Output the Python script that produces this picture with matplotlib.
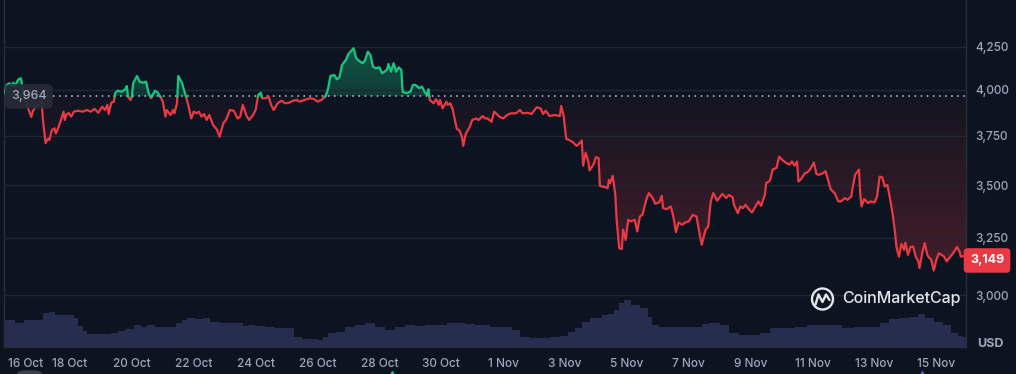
import numpy as np
import matplotlib
matplotlib.use('Agg')
import matplotlib.pyplot as plt
from matplotlib.patches import FancyBboxPatch, Ellipse
from matplotlib.path import Path
from matplotlib.ticker import FixedLocator, NullLocator, FuncFormatter
import matplotlib.transforms as mtrans

# hours since 16 Oct 00:00, price in USD
hours = [-3, -1, 1, 3, 4, 5, 8, 10, 11, 12,
         15, 18, 19, 21, 26, 27, 29, 31, 32, 34,
         36, 37, 39, 41, 43, 44, 45, 47, 49, 51,
         54, 58, 61, 64, 67, 70, 73, 75, 77, 78,
         80, 82, 83, 85, 88, 91, 92, 93, 95, 96,
         97, 100, 102, 105, 107, 109, 111, 112, 114, 116,
         118, 120, 122, 123, 126, 128, 129, 131, 132, 135,
         136, 138, 140, 142, 144, 146, 148, 150, 152, 154,
         156, 159, 162, 164, 165, 167, 169, 172, 175, 178,
         180, 182, 185, 187, 190, 192, 194, 196, 197, 200,
         202, 204, 206, 209, 212, 215, 218, 221, 224, 226,
         230, 234, 237, 240, 243, 246, 248, 250, 253, 255,
         257, 259, 262, 264, 268, 270, 272, 275, 277, 279,
         281, 283, 285, 288, 290, 292, 294, 295, 297, 299,
         301, 303, 305, 306, 309, 312, 314, 316, 319, 321,
         323, 325, 326, 327, 330, 332, 334, 335, 337, 340,
         341, 343, 345, 346, 348, 350, 352, 353, 355, 358,
         360, 363, 365, 368, 370, 372, 375, 377, 381, 384,
         387, 390, 394, 397, 399, 403, 406, 410, 413, 415,
         417, 420, 424, 428, 429, 431, 432, 433, 436, 438,
         441, 444, 445, 446, 448, 450, 451, 454, 456, 458,
         459, 463, 465, 466, 467, 469, 471, 472, 474, 476,
         477, 479, 481, 483, 486, 488, 490, 492, 495, 497,
         500, 502, 505, 507, 508, 511, 514, 516, 518, 520,
         523, 525, 528, 531, 534, 536, 538, 541, 543, 545,
         547, 550, 552, 554, 557, 559, 562, 563, 566, 568,
         570, 572, 575, 577, 580, 582, 584, 587, 588, 591,
         593, 596, 598, 601, 603, 606, 608, 610, 612, 613,
         615, 618, 620, 622, 625, 627, 629, 632, 634, 636,
         638, 641, 644, 646, 649, 651, 654, 655, 657, 660,
         661, 662, 664, 667, 669, 672, 674, 676, 678, 680,
         682, 684, 686, 688, 689, 691, 693, 695, 696, 698,
         700, 702, 704, 706, 707, 709, 711, 713, 714, 716,
         718, 720, 722, 724, 726, 728, 730, 732, 733, 736,
         738, 739, 742, 743]

price = [3982, 4028, 4038, 4019, 4041, 4019, 4060, 4066, 4019, 3982,
         3907, 3851, 3879, 3905, 3935, 3835, 3713, 3736, 3729, 3782,
         3790, 3763, 3795, 3835, 3880, 3835, 3862, 3873, 3853, 3880,
         3885, 3880, 3889, 3880, 3895, 3874, 3907, 3889, 3917, 3867,
         3929, 3935, 3982, 3996, 3990, 4004, 4022, 3963, 3944, 3963,
         4038, 4079, 4047, 4041, 4047, 3982, 3954, 3972, 3996, 3985,
         3963, 3935, 3853, 3889, 3862, 3889, 3871, 3926, 4079, 4038,
         4010, 3963, 3907, 3843, 3880, 3871, 3880, 3853, 3867, 3835,
         3862, 3808, 3783, 3746, 3770, 3818, 3835, 3889, 3885, 3843,
         3853, 3917, 3856, 3835, 3862, 3889, 3972, 3985, 3954, 3954,
         3963, 3917, 3889, 3926, 3940, 3926, 3929, 3940, 3944, 3935,
         3944, 3954, 3950, 3935, 3944, 3963, 4000, 4079, 4085, 4060,
         4072, 4143, 4172, 4207, 4241, 4182, 4168, 4153, 4172, 4221,
         4201, 4133, 4124, 4129, 4095, 4104, 4118, 4149, 4104, 4153,
         4104, 4129, 4114, 3990, 3982, 3990, 4028, 4028, 4010, 4019,
         3990, 3972, 4004, 3944, 3926, 3948, 3917, 3944, 3898, 3935,
         3917, 3926, 3889, 3853, 3788, 3779, 3746, 3698, 3761, 3797,
         3835, 3843, 3835, 3856, 3843, 3843, 3825, 3880, 3853, 3843,
         3862, 3871, 3871, 3889, 3871, 3874, 3867, 3904, 3898, 3867,
         3885, 3856, 3862, 3856, 3911, 3853, 3788, 3734, 3726, 3717,
         3698, 3717, 3726, 3597, 3663, 3618, 3573, 3602, 3640, 3635,
         3496, 3490, 3485, 3526, 3510, 3546, 3452, 3334, 3204, 3200,
         3288, 3241, 3334, 3326, 3334, 3280, 3349, 3357, 3429, 3461,
         3437, 3410, 3416, 3448, 3389, 3384, 3397, 3349, 3276, 3321,
         3311, 3321, 3326, 3357, 3349, 3280, 3219, 3288, 3302, 3421,
         3461, 3425, 3441, 3457, 3437, 3452, 3441, 3405, 3365, 3397,
         3389, 3405, 3381, 3368, 3400, 3421, 3400, 3452, 3510, 3522,
         3577, 3586, 3642, 3623, 3613, 3602, 3618, 3597, 3618, 3518,
         3529, 3559, 3564, 3577, 3613, 3555, 3551, 3559, 3569, 3526,
         3480, 3461, 3421, 3421, 3437, 3429, 3444, 3485, 3551, 3577,
         3452, 3397, 3432, 3413, 3421, 3416, 3444, 3542, 3539, 3493,
         3501, 3437, 3365, 3273, 3211, 3166, 3223, 3196, 3229, 3174,
         3209, 3211, 3166, 3145, 3116, 3181, 3227, 3174, 3164, 3152,
         3105, 3152, 3181, 3174, 3166, 3145, 3160, 3174, 3181, 3209,
         3188, 3166, 3169, 3149]

# volume (relative units)
vol_hours = [-3, 3, 7, 11, 14, 25, 29, 34, 38, 50, 52, 56, 60, 63, 77, 83, 87, 95,
             100, 106, 110, 118, 129, 132, 137, 141, 149, 153, 160, 168, 180, 184,
             188, 195, 203, 211, 218, 226, 230, 238, 242, 246, 251, 257, 265, 273,
             281, 288, 296, 304, 312, 319, 327, 335, 346, 350, 358, 366, 381, 389,
             393, 401, 408, 416, 424, 432, 436, 443, 447, 455, 459, 463, 468, 472,
             476, 480, 486, 494, 498, 501, 509, 536, 540, 548, 556, 563, 571, 579,
             587, 595, 606, 614, 626, 641, 653, 660, 672, 680, 687, 695, 703, 708,
             714, 722, 728, 734, 739, 743]
volume = [27, 27, 24, 24, 27, 27, 34, 35, 32, 32, 29, 21, 16, 12.7, 12.7, 14.3, 16, 18,
          22, 19.7, 22, 20, 20, 23.7, 27, 28.7, 27.7, 28.7, 25.3, 23.7, 23.7, 21,
          22, 21, 20, 18.7, 18.7, 10.3, 7.7, 7.7, 7, 9.7, 13.7, 15.3, 19.7, 22,
          23.7, 20, 17, 20, 22, 21, 22, 22, 23.7, 24.3, 22.7, 22, 19.7, 19.7,
          17, 10.3, 8.7, 8.7, 10.3, 11, 15.3, 18.7, 25.3, 28.7, 28.7, 32, 33, 37,
          43.7, 47, 42, 38.7, 30.3, 22, 20, 20, 23, 23.7, 22, 14.3, 12, 12,
          13.7, 18.7, 18.7, 19.7, 22, 22, 18.7, 19.7, 20, 23.7, 27.7, 28.7, 30.3, 33,
          28.7, 25.3, 22, 13.7, 11, 10]

base_price = 3964
last_price = 3149
y_ticks = [3000, 3250, 3500, 3750, 4000, 4250]
x_labels = ['16 Oct', '18 Oct', '20 Oct', '22 Oct', '24 Oct', '26 Oct', '28 Oct',
            '30 Oct', '1 Nov', '3 Nov', '5 Nov', '7 Nov', '9 Nov', '11 Nov',
            '13 Nov', '15 Nov']
event_hours = [298, 709]
event_colors = ['#16c784', '#3861fb']

BG = '#0d1421'
RED = '#ea3943'
GREEN = '#16c784'
GRID = '#222632'
TXT = '#a1a7bb'

plt.rcParams['font.family'] = ['Inter', 'DejaVu Sans']

W, H = 1016, 374
fig = plt.figure(figsize=(W / 100, H / 100), dpi=100)
fig.patch.set_facecolor(BG)
rect = [4 / W, (H - 347) / H, 962 / W, 347 / H]

# volume band underneath
vax = fig.add_axes(rect)
vax.set_facecolor(BG)
vax.fill_between(vol_hours, volume, 0, step='mid', color='#262d4e', lw=0)
vax.set_ylim(0, 347)
vax.set_xlim(-3.2, 743)
vax.axis('off')

ax = fig.add_axes(rect, sharex=vax)
ax.patch.set_visible(False)
ax.set_yscale('log')
ylo, yhi = 2789, 4538
ax.set_ylim(ylo, yhi)
ax.set_xlim(-3.2, 743)

t = np.array(hours, float)
p = np.array(price, float)
tt, pp = [t[0]], [p[0]]
for i in range(1, len(t)):
    a, b = p[i - 1] - base_price, p[i] - base_price
    if a * b < 0:
        f = a / (a - b)
        tt.append(t[i - 1] + f * (t[i] - t[i - 1]))
        pp.append(base_price)
    tt.append(t[i])
    pp.append(p[i])
tt = np.array(tt)
pp = np.array(pp)


def yfrac(v):
    return (np.log(v) - np.log(ylo)) / (np.log(yhi) - np.log(ylo))


def gradient_fill(where, color, a_top, a_bot, y0, y1):
    poly = ax.fill_between(tt, pp, base_price, where=where, interpolate=True,
                           color='none', lw=0)
    paths = poly.get_paths()
    if not paths:
        return
    clip = Path.make_compound_path(*paths)
    n = 256
    grad = np.zeros((n, 1, 4))
    grad[:, 0, :3] = matplotlib.colors.to_rgb(color)
    grad[:, 0, 3] = np.linspace(a_bot, a_top, n)
    im = ax.imshow(grad, extent=[0, 1, yfrac(y0), yfrac(y1)], origin='lower',
                   transform=ax.transAxes, aspect='auto', zorder=1,
                   interpolation='bilinear')
    im.set_clip_path(clip, ax.transData)


gradient_fill(pp <= base_price, RED, 0.03, 0.25, 3105, base_price)
gradient_fill(pp >= base_price, GREEN, 0.38, 0.22, base_price, 4241)
ax.set_xlim(-3.2, 743)
ax.set_ylim(ylo, yhi)

up = np.where(pp >= base_price, pp, np.nan)
dn = np.where(pp <= base_price, pp, np.nan)
ax.plot(tt, dn, color=RED, lw=1.6, zorder=3, solid_joinstyle='round')
ax.plot(tt, up, color=GREEN, lw=1.6, zorder=3, solid_joinstyle='round')

ax.axhline(base_price, color='#c9ccd6', lw=1.1, ls=(0, (1, 3)), zorder=2)

# axes styling
ax.yaxis.set_major_locator(FixedLocator(y_ticks))
ax.yaxis.set_minor_locator(NullLocator())
ax.yaxis.set_major_formatter(FuncFormatter(lambda v, pos: f'{v:,.0f}'))
ax.yaxis.tick_right()
ax.grid(axis='y', color=GRID, lw=1, zorder=0)
ax.tick_params(axis='y', length=0, pad=7, labelsize=8.5, labelcolor=TXT)
ax.set_xticks([48 * i for i in range(len(x_labels))])
ax.set_xticklabels(x_labels)
ax.tick_params(axis='x', length=0, pad=8, labelsize=8.5, labelcolor=TXT)
ax.get_xticklabels()[0].set_horizontalalignment('left')
for lab in ax.get_xticklabels() + ax.get_yticklabels():
    lab.set_fontweight('medium')
for s in ['left', 'right', 'bottom']:
    ax.spines[s].set_color('#2a2e3a')
    ax.spines[s].set_linewidth(1)
ax.spines['top'].set_visible(False)

# price tags
bt = mtrans.blended_transform_factory(ax.transAxes, ax.transData)
ax.text(1.0 + 4 / 962, last_price, f'{last_price:,}', transform=bt, ha='left',
        va='center', color='white', fontsize=9, fontweight='bold', zorder=6,
        clip_on=False,
        bbox=dict(boxstyle='round,pad=0.5,rounding_size=0.3', fc=RED, ec='none'))
ax.text(7 / 962, base_price, f'{base_price:,}', transform=bt, ha='left',
        va='center', color=TXT, fontsize=9, fontweight='medium', zorder=6,
        bbox=dict(boxstyle='round,pad=0.5,rounding_size=0.45', fc='#272b37',
                  ec='none', alpha=0.92))

# event markers along the bottom
for h, c in zip(event_hours, event_colors):
    ax.plot([h], [-(374 - 347) / 347 - 0.005], marker='^', ms=7, color=c,
            transform=mtrans.blended_transform_factory(ax.transData, ax.transAxes),
            clip_on=False, zorder=5)
fig.patches.append(FancyBboxPatch((17 / W, -0.02), 25 / W, 0.03,
                                  boxstyle='round,pad=0,rounding_size=0.01',
                                  transform=fig.transFigure, fc='#3a3f4d', ec='none'))

# currency tag
fig.text(990 / W, 1 - 344 / H, 'USD', ha='center', va='center', color=TXT,
         fontsize=9, fontweight='bold')

# logo
cx, cy = 822.5, 299
fig.patches.append(Ellipse((cx / W, 1 - cy / H), 21 / W, 21 / H, transform=fig.transFigure,
                           fill=False, ec='#e4e6ec', lw=1.7))
mx = np.array([815.5, 818.5, 822.5, 826.0, 829.5]) / W
my = 1 - np.array([304.5, 294.5, 302.0, 294.5, 300.0]) / H
fig.lines.append(matplotlib.lines.Line2D(mx, my, transform=fig.transFigure, color='#e4e6ec',
                                         lw=1.7, solid_joinstyle='round',
                                         solid_capstyle='round'))
fig.text(842 / W, 1 - 299 / H, 'CoinMarketCap', ha='left', va='center', color='#e4e6ec',
         fontsize=11.5, fontweight='medium')

fig.savefig('out.png', dpi=100, facecolor=BG)
